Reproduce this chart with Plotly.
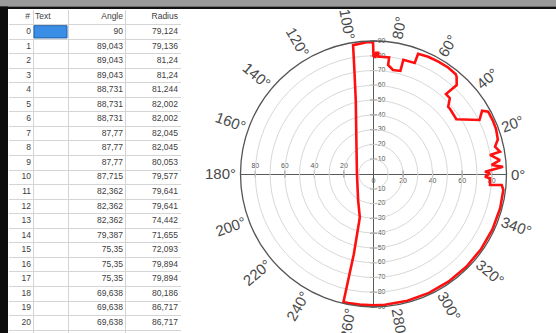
import math
import plotly.graph_objects as go

W, H = 556, 333

# ---------------- data ----------------
table_index = list(range(21))
table_angle = [90, 89.043, 89.043, 89.043, 88.731, 88.731, 88.731, 87.77, 87.77, 87.77,
               87.715, 82.362, 82.362, 82.362, 79.387, 75.35, 75.35, 75.35, 69.638, 69.638, 69.638]
table_radius = [79.124, 79.136, 81.24, 81.24, 81.244, 82.002, 82.002, 82.045, 82.045, 80.053,
                79.577, 79.641, 79.641, 74.442, 71.655, 72.093, 79.894, 79.894, 80.186, 86.717, 86.717]
table_headers = ["#", "Text", "Angle", "Radius"]

# remainder of the curve (degrees, radius)
curve_theta = [65, 60, 55, 50.5, 49.5, 46.9, 47.8, 44.8, 42.0, 40.5, 33.5, 27.0, 30.2, 28.5,
               24, 20, 15.5, 12.7, 10.0, 9.3, 6.3, 4.4, 3.2, 1.2, 0.3, 358.6, 357.9, 354.6,
               355.1, 353, 345, 335, 325, 315, 305, 295, 285, 275, 270, 264, 259,
               256.8, 256.6, 256.2, 252.5, 239.5, 180, 116.5, 103.6, 100.4, 99.0, 93.0, 90.2]
curve_r = [87.5, 87.8, 88.0, 87.5, 86.6, 82.4, 73.0, 72.8, 68.0, 68.0, 67.2, 80.5, 85.0, 88.3,
           88.5, 88.3, 87.3, 84.3, 86.9, 79.9, 86.1, 80.2, 87.8, 75.5, 78.8, 75.5, 78.9, 79.2,
           87.1, 88.5, 88.8, 88.8, 88.8, 88.8, 88.8, 88.8, 88.8, 88.8, 88.8, 88.9, 89.0,
           89.0, 73.8, 55.9, 30.8, 20.5, 11.2, 26.0, 51.0, 71.7, 88.3, 89.3, 89.3]

angle_ticks = list(range(0, 360, 20))
angle_labels = [f"{a}°" for a in angle_ticks]
radial_ticks = [10, 20, 30, 40, 50, 60, 70, 80, 90]
horiz_ticks = [20, 40, 60, 80]


def fmt(v):
    return f"{v:g}".replace(".", ",")


FONT = "Liberation Sans, Arial, sans-serif"

# ---------------- layout geometry ----------------
px0, px1 = 240.5, 506.5      # polar square in pixels (x)
py0, py1 = 41.0, 307.0       # polar square in pixels (y from top)
dom_x = [px0 / W, px1 / W]
dom_y = [1 - py1 / H, 1 - py0 / H]
cx, cy = (px0 + px1) / 2, (py0 + py1) / 2
R = (px1 - px0) / 2

# table geometry (pixel columns, row height)
col_bounds = [9, 33, 68, 125, 180]
row_h = 14.55
tbl_top = 10.0
tbl_rows_visible = (H - tbl_top) / row_h

fig = go.Figure()

# ---------------- table (own cartesian subplot) ----------------
tfont = dict(family=FONT, size=8.5, color="#404040")
rows = table_index
fig.add_trace(go.Scatter(x=[col_bounds[1] - 2] * len(rows), y=rows, mode="text",
                         text=[str(i) for i in rows], textposition="middle left",
                         textfont=tfont, xaxis="x2", yaxis="y2", hoverinfo="skip",
                         cliponaxis=False))
fig.add_trace(go.Scatter(x=[col_bounds[3] - 2] * len(rows), y=rows, mode="text",
                         text=[fmt(v) for v in table_angle], textposition="middle left",
                         textfont=tfont, xaxis="x2", yaxis="y2", hoverinfo="skip",
                         cliponaxis=False))
fig.add_trace(go.Scatter(x=[col_bounds[4] - 2] * len(rows), y=rows, mode="text",
                         text=[fmt(v) for v in table_radius], textposition="middle left",
                         textfont=tfont, xaxis="x2", yaxis="y2", hoverinfo="skip",
                         cliponaxis=False))
fig.add_trace(go.Scatter(x=[col_bounds[1] - 3, col_bounds[3] - 2, col_bounds[4] - 2], y=[-1] * 3,
                         mode="text", text=[table_headers[0], table_headers[2], table_headers[3]],
                         textposition="middle left", textfont=tfont,
                         xaxis="x2", yaxis="y2", hoverinfo="skip", cliponaxis=False))
fig.add_trace(go.Scatter(x=[col_bounds[1] + 2], y=[-1], mode="text", text=[table_headers[1]],
                         textposition="middle right", textfont=tfont,
                         xaxis="x2", yaxis="y2", hoverinfo="skip", cliponaxis=False))

# ---------------- cartesian overlay for crossing axes ----------------
tick_font = dict(family=FONT, size=7, color="#555")
fig.add_trace(go.Scatter(
    x=[0] * (2 * len(radial_ticks)), y=radial_ticks + [-t for t in radial_ticks],
    mode="markers+text", text=[str(t) for t in radial_ticks] * 2,
    textposition="middle right", textfont=tick_font,
    marker=dict(symbol="line-ew-open", size=5, color="#555", line=dict(width=1, color="#555")),
    hoverinfo="skip", xaxis="x", yaxis="y", cliponaxis=False))
fig.add_trace(go.Scatter(
    x=[-t for t in horiz_ticks], y=[0] * len(horiz_ticks),
    mode="markers+text", text=[str(t) for t in horiz_ticks],
    textposition="top center", textfont=tick_font,
    marker=dict(symbol="line-ns-open", size=5, color="#555", line=dict(width=1, color="#555")),
    hoverinfo="skip", xaxis="x", yaxis="y", cliponaxis=False))
fig.add_trace(go.Scatter(
    x=[0] + horiz_ticks, y=[0] * (len(horiz_ticks) + 1),
    mode="markers+text", text=["0"] + [str(t) for t in horiz_ticks],
    textposition="bottom center", textfont=tick_font,
    marker=dict(symbol="line-ns-open", size=5, color="#555", line=dict(width=1, color="#555")),
    hoverinfo="skip", xaxis="x", yaxis="y", cliponaxis=False))

# ---------------- polar curve ----------------
theta = table_angle + curve_theta + [table_angle[0]]
rr = table_radius + curve_r + [table_radius[0]]
fig.add_trace(go.Scatterpolar(r=rr, theta=theta, mode="lines",
                              line=dict(color="#ff1010", width=2.6), hoverinfo="skip"))

# ---------------- angular labels ----------------
annotations = []
fs = 15
for a, lab in zip(angle_ticks, angle_labels):
    ndig = len(lab) - 1
    wtxt = fs * (0.556 * ndig + 0.4)
    d = R + 4 + wtxt / 2
    x = cx + d * math.cos(math.radians(a))
    y = cy - d * math.sin(math.radians(a))
    t = -a
    while t <= -90:
        t += 180
    while t > 90:
        t -= 180
    annotations.append(dict(x=x / W, y=1 - y / H, xref="paper", yref="paper",
                            text=lab, showarrow=False, textangle=t,
                            xanchor="center", yanchor="middle",
                            font=dict(family=FONT, size=fs, color="#4a4a4a")))

shapes = [
    dict(type="rect", xref="x2", yref="y2", x0=col_bounds[1] + 1, x1=col_bounds[2] - 1,
         y0=-0.42, y1=0.42, fillcolor="#3a8ee6", line=dict(color="#1f5fa8", width=1),
         layer="above"),
    dict(type="rect", xref="paper", yref="paper", x0=0, x1=1, y0=1 - 6.5 / H, y1=1,
         fillcolor="#9a9a9a", line_width=0, layer="above"),
    dict(type="rect", xref="paper", yref="paper", x0=0, x1=1, y0=1 - 9 / H, y1=1 - 6.5 / H,
         fillcolor="#111111", line_width=0, layer="above"),
    dict(type="rect", xref="paper", yref="paper", x0=0, x1=8 / W, y0=0, y1=1 - 6.5 / H,
         fillcolor="#0d0d0d", line_width=0, layer="above"),
]

fig.update_layout(
    width=W, height=H, margin=dict(l=0, r=0, t=0, b=0),
    paper_bgcolor="white", plot_bgcolor="rgba(0,0,0,0)", showlegend=False,
    xaxis=dict(domain=dom_x, range=[-90, 90], showgrid=False, zeroline=True,
               zerolinecolor="#5a5a5a", zerolinewidth=1, showticklabels=False, ticks="",
               fixedrange=True),
    yaxis=dict(domain=dom_y, range=[-90, 90], showgrid=False, zeroline=True,
               zerolinecolor="#5a5a5a", zerolinewidth=1, showticklabels=False, ticks="",
               fixedrange=True),
    xaxis2=dict(domain=[8.5 / W, 181 / W], range=[8.5, 181], tickvals=col_bounds,
                showgrid=True, gridcolor="#d4d4d4", gridwidth=1, zeroline=False,
                showticklabels=False, ticks="", fixedrange=True, anchor="y2"),
    yaxis2=dict(domain=[0, 1 - tbl_top / H], range=[-1.5 + tbl_rows_visible, -1.5],
                tickvals=[k - 0.5 for k in range(-1, 23)],
                showgrid=True, gridcolor="#d4d4d4", gridwidth=1, zeroline=False,
                showticklabels=False, ticks="", fixedrange=True, anchor="x2"),
    polar=dict(domain=dict(x=dom_x, y=dom_y), bgcolor="rgba(0,0,0,0)",
               radialaxis=dict(range=[0, 90], tickvals=radial_ticks, showticklabels=False,
                               ticks="", showline=False, gridcolor="#d8d8d8", gridwidth=1),
               angularaxis=dict(showgrid=False, showticklabels=False, ticks="",
                                linecolor="#555", linewidth=1.3,
                                direction="counterclockwise", rotation=0)),
    annotations=annotations, shapes=shapes,
)

fig.write_html("out.html", config={"displayModeBar": False, "staticPlot": True},
               post_script="document.body.style.margin='0';document.body.style.overflow='hidden';")
